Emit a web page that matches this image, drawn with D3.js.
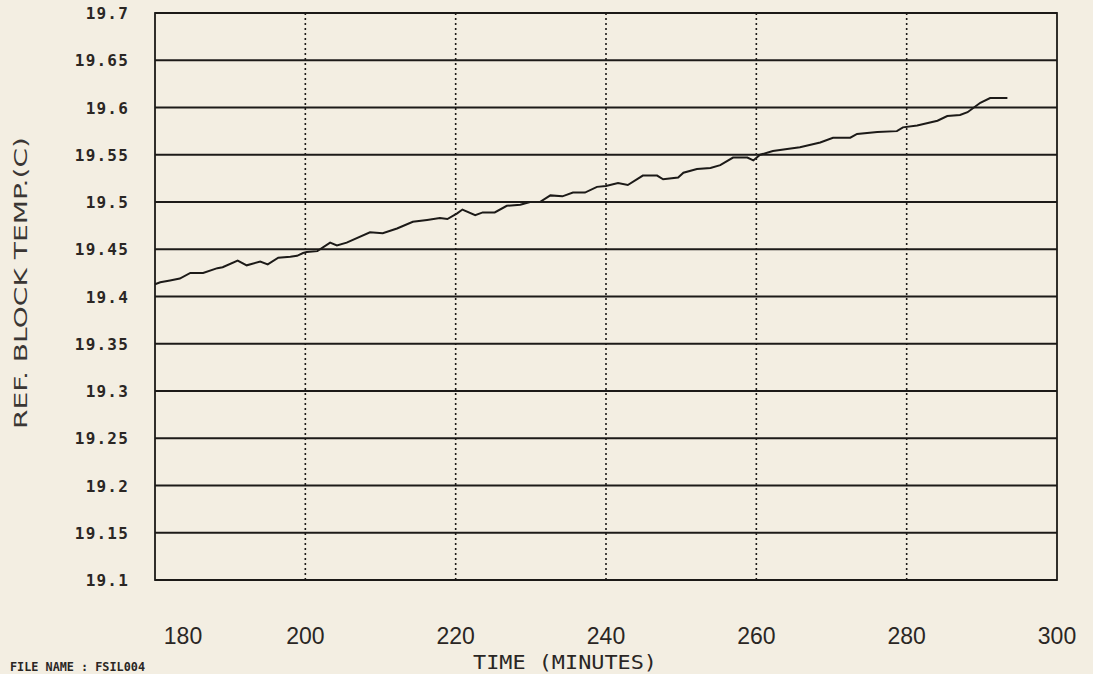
<!DOCTYPE html>
<html><head><meta charset="utf-8">
<script src="https://cdn.jsdelivr.net/npm/d3@7"></script>
<style>html,body{margin:0;padding:0;background:#f3eee2;}svg{display:block;}</style>
</head><body>
<svg id="c" width="1093" height="674"></svg>
<script>
const minutes = [180.0,180.7,182.0,183.3,184.7,186.4,188.3,189.0,191.0,192.2,194.0,195.0,196.4,198.0,198.9,199.7,200.2,201.6,203.3,204.2,205.5,208.6,210.3,212.2,214.3,216.2,217.9,218.9,220.2,220.9,222.6,223.6,225.2,226.8,228.6,229.9,231.2,232.6,234.2,235.6,237.2,238.8,240.0,241.6,242.9,244.9,246.8,247.6,249.6,250.3,252.1,253.9,255.2,256.9,258.8,259.6,260.5,262.2,264.1,265.8,268.5,270.2,272.5,273.4,276.1,278.7,279.5,281.4,284.1,285.4,287.1,288.1,289.8,291.1,293.4];
const temps = [19.413,19.415,19.417,19.419,19.425,19.425,19.430,19.431,19.438,19.433,19.437,19.434,19.441,19.442,19.443,19.446,19.447,19.448,19.457,19.454,19.457,19.468,19.467,19.472,19.479,19.481,19.483,19.482,19.488,19.492,19.486,19.489,19.489,19.496,19.497,19.500,19.500,19.507,19.506,19.510,19.510,19.516,19.517,19.520,19.518,19.528,19.528,19.524,19.526,19.531,19.535,19.536,19.539,19.547,19.547,19.544,19.550,19.554,19.556,19.558,19.563,19.568,19.568,19.572,19.574,19.575,19.579,19.581,19.586,19.591,19.592,19.595,19.605,19.610,19.610];
const yTicks = [19.1,19.15,19.2,19.25,19.3,19.35,19.4,19.45,19.5,19.55,19.6,19.65,19.7];
const yTickLabels = ["19.1","19.15","19.2","19.25","19.3","19.35","19.4","19.45","19.5","19.55","19.6","19.65","19.7"];
const xTicks = [180,200,220,240,260,280,300];
const xTitle = "TIME (MINUTES)";
const yTitle = "REF. BLOCK TEMP.(C)";
const fileLabel = "FILE NAME : FSIL004";

const svg = d3.select("#c");
const L=155, R=1057, T=13, B=580;
const x = d3.scaleLinear().domain([180,300]).range([L,R]);
const y = d3.scaleLinear().domain([19.1,19.7]).range([B,T]);
const ink = "#1c1a18";

// horizontal gridlines
svg.append("g").selectAll("line").data(yTicks).join("line")
  .attr("x1",L).attr("x2",R).attr("y1",d=>y(d)).attr("y2",d=>y(d))
  .attr("stroke",ink).attr("stroke-width",1.8);
// vertical dotted gridlines
svg.append("g").selectAll("line").data(xTicks.slice(1,-1)).join("line")
  .attr("x1",d=>x(d)).attr("x2",d=>x(d)).attr("y1",T).attr("y2",B)
  .attr("stroke",ink).attr("stroke-width",1.6).attr("stroke-dasharray","2,3");
// frame
svg.append("rect").attr("x",L).attr("y",T).attr("width",R-L).attr("height",B-T)
  .attr("fill","none").attr("stroke",ink).attr("stroke-width",1.8);

// y tick labels
svg.append("g").selectAll("text").data(yTicks).join("text")
  .attr("x",129).attr("y",d=>y(d)+6).attr("text-anchor","end")
  .attr("font-family","DejaVu Sans Mono").attr("font-weight","bold").attr("font-size",16)
  .attr("letter-spacing",1.2)
  .attr("fill","#2a2624").text((d,i)=>yTickLabels[i]);

// x tick labels
svg.append("g").selectAll("text").data(xTicks).join("text")
  .attr("x",d=>x(d)+(d===180?28:0)).attr("y",644).attr("text-anchor","middle")
  .attr("font-family","Liberation Sans").attr("font-size",23)
  .attr("fill","#2a2624").text(d=>d);

// axis titles
svg.append("text").attr("x",565).attr("y",669).attr("text-anchor","middle")
  .attr("font-family","DejaVu Sans Mono").attr("font-size",19).attr("fill","#2a2624")
  .attr("textLength",184).attr("lengthAdjust","spacingAndGlyphs").text(xTitle);
svg.append("text").attr("transform","translate(27,283) rotate(-90)").attr("text-anchor","middle")
  .attr("font-family","DejaVu Sans").attr("font-size",17).attr("fill","#3a3634")
  .attr("textLength",292).attr("lengthAdjust","spacingAndGlyphs").text(yTitle);
svg.append("text").attr("x",10).attr("y",671)
  .attr("font-family","DejaVu Sans Mono").attr("font-weight","bold").attr("font-size",12)
  .attr("textLength",135).attr("lengthAdjust","spacingAndGlyphs")
  .attr("fill","#2a2624").text(fileLabel);

// data line
const line = d3.line().x((d,i)=>x(minutes[i])).y(d=>y(d));
svg.append("path").datum(temps).attr("d",line)
  .attr("fill","none").attr("stroke",ink).attr("stroke-width",2);
</script>
</body></html>
